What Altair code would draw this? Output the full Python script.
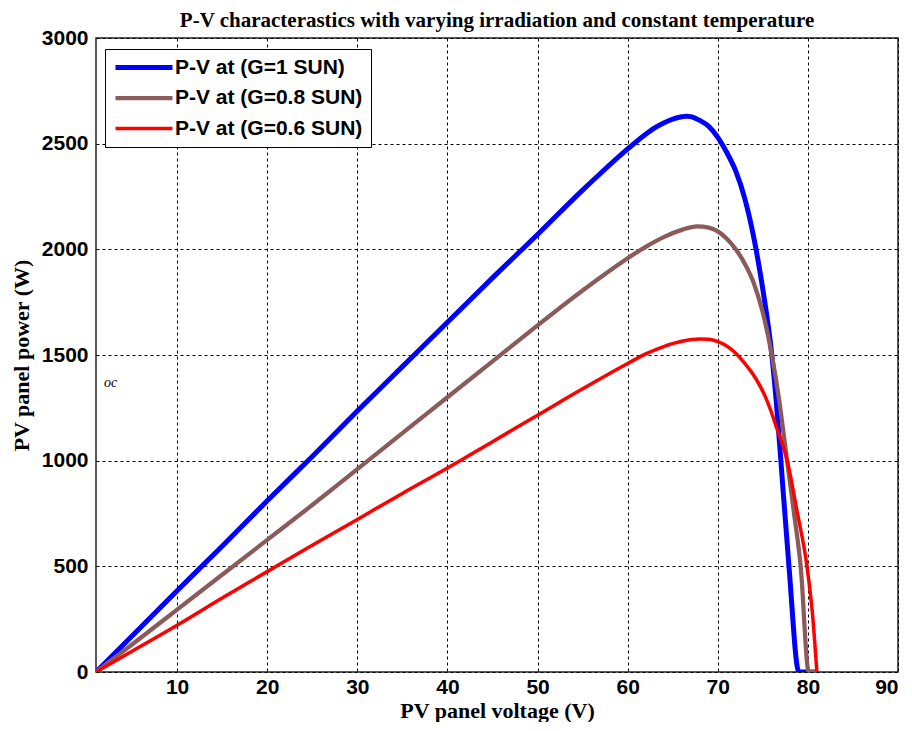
import altair as alt
import pandas as pd

# ---- data ----
LABELS = ["P-V at (G=1 SUN)", "P-V at (G=0.8 SUN)", "P-V at (G=0.6 SUN)"]
COLORS = ["#0000FF", "#8B5A5A", "#FF0000"]
WIDTHS = [5, 3.5, 3.5]

V_G1 = [1, 5, 10, 15, 20, 25, 30, 35, 40, 45, 50, 55, 57, 60, 62, 63, 64, 65, 66, 66.5, 67,
        68, 69, 70, 71, 72, 73, 74, 75, 76, 76.5, 77, 77.9, 79.0, 80.9]
P_G1 = [0, 170, 385, 595, 810, 1020, 1235, 1445, 1655, 1865, 2070, 2280, 2360, 2475, 2545, 2575, 2598, 2616, 2627, 2630, 2628,
        2610, 2582, 2530, 2458, 2370, 2240, 2055, 1810, 1500, 1275, 1000, 500, 0, 0]

V_G08 = [1, 5, 10, 15, 20, 25, 30, 35, 40, 45, 50, 55, 57, 60, 62, 64, 66, 67.7, 69, 70,
         71, 72, 73, 74, 75, 76, 76.8, 77.6, 78.4, 79.2, 80.1, 80.9]
P_G08 = [0, 130, 295, 460, 625, 790, 960, 1130, 1300, 1470, 1640, 1805, 1868, 1958, 2012, 2058, 2092, 2109, 2103, 2085,
         2050, 2000, 1932, 1840, 1700, 1500, 1290, 1030, 770, 500, 0, 0]

V_G06 = [1, 5, 10, 15, 20, 25, 30, 35, 40, 45, 50, 55, 60, 62, 64, 66, 68, 69, 70, 71, 72,
         73.0, 74.2, 75.2, 75.9, 76.5, 77.2, 77.7, 78.8, 79.9, 80.5, 81.0]
P_G06 = [0, 98, 221, 350, 475, 600, 722, 845, 965, 1090, 1215, 1340, 1460, 1505, 1540, 1565, 1576, 1574, 1563, 1543, 1508,
         1460, 1390, 1310, 1235, 1160, 1075, 1000, 760, 500, 280, 0]

X_TICKS = [10, 20, 30, 40, 50, 60, 70, 80, 90]
Y_TICKS = [0, 500, 1000, 1500, 2000, 2500, 3000]

NOTE_TEXT = ["oc"]
NOTE_V = [1.9]
NOTE_P = [1366]

rows = []
for lab, vs, ps in zip(LABELS, [V_G1, V_G08, V_G06], [P_G1, P_G08, P_G06]):
    for i, (v, p) in enumerate(zip(vs, ps)):
        rows.append({"series": lab, "V": v, "P": p, "idx": i})
df = pd.DataFrame(rows)
note_df = pd.DataFrame({"t": NOTE_TEXT, "V": NOTE_V, "P": NOTE_P})

xscale = alt.Scale(domain=[1, 90], nice=False, zero=False)
yscale = alt.Scale(domain=[0, 3000], nice=False)

lines = alt.Chart(df).mark_line(clip=True, interpolate="monotone", strokeCap="butt",
                                strokeJoin="round").encode(
    x=alt.X("V:Q", scale=xscale,
            axis=alt.Axis(values=X_TICKS, title="PV panel voltage (V)", format="d")),
    y=alt.Y("P:Q", scale=yscale,
            axis=alt.Axis(values=Y_TICKS, title="PV panel power (W)", format="d")),
    color=alt.Color("series:N", scale=alt.Scale(domain=LABELS, range=COLORS),
                    legend=alt.Legend(title=None, orient="none", legendX=9, legendY=11,
                                      symbolType="stroke", symbolSize=3249,
                                      strokeColor="black", fillColor="white",
                                      padding=8, clipHeight=21, rowPadding=8.5, labelOffset=0,
                                      labelFont="Liberation Sans", labelFontWeight="bold",
                                      labelFontSize=21, labelColor="black", labelLimit=400,
                                      cornerRadius=0)),
    strokeWidth=alt.StrokeWidth("series:N", scale=alt.Scale(domain=LABELS, range=WIDTHS)),
    order="idx:Q",
)

note = alt.Chart(note_df).mark_text(align="left", baseline="middle", font="Liberation Serif",
                                     fontStyle="italic", fontSize=14, color="black").encode(
    x=alt.X("V:Q", scale=xscale), y=alt.Y("P:Q", scale=yscale), text="t:N")

chart = alt.layer(lines, note).properties(
    width=802, height=634,
    title=alt.TitleParams("P-V characterastics with varying irradiation and constant temperature",
                          font="Liberation Serif", fontSize=21, fontWeight="bold",
                          anchor="middle", offset=-4, color="black"),
    padding={"left": 88, "top": 30, "right": 4, "bottom": 50},
    autosize=alt.AutoSizeParams(type="none"),
).configure_view(stroke="#222222", strokeWidth=1.5).configure_axis(
    grid=True, gridColor="black", gridDash=[3, 3], gridWidth=1, gridOpacity=1,
    ticks=False, domain=False,
    labelFont="Liberation Sans", labelFontWeight="bold", labelFontSize=21, labelColor="black",
    titleFont="Liberation Serif", titleFontWeight="bold", titleFontSize=22, titleColor="black",
).configure_axisX(
    labelPadding=4, titleBaseline="alphabetic", titleY=45,
).configure_axisY(
    labelPadding=8, titlePadding=8,
)

chart.save("out.html", embed_options={"renderer": "svg", "actions": False})
